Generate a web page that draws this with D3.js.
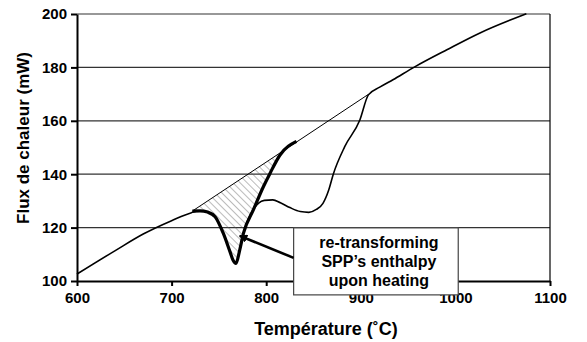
<!DOCTYPE html>
<html lang="fr">
<head>
<meta charset="utf-8">
<title>Flux de chaleur</title>
<script src="https://cdn.jsdelivr.net/npm/d3@7"></script>
<style>
body { margin: 0; background: #fff; }
text { font-family: "Liberation Sans", Arial, sans-serif; font-weight: bold; fill: #000; }
.grid line { stroke: #333; stroke-width: 1.2px; }
.axis path, .axis line { stroke: #000; stroke-width: 2px; fill: none; }
.axis text { font-size: 15px; }
</style>
</head>
<body>
<script>
// DSC heating curve (thin line)
var dscT = [600, 640, 670, 700, 721, 730, 740, 746, 754.6, 761.7, 765, 768, 772, 776, 786, 792, 798, 807, 815, 825, 836, 845, 853, 860, 866, 871, 883, 899, 908, 920, 934, 957, 991, 1026, 1075];
var dscQ = [102.6, 111.3, 117.6, 122.6, 125.6, 126.3, 125.6, 124.1, 117.9, 111, 107.8, 106.6, 111.6, 117.9, 126.6, 129.2, 130.2, 130.4, 129.3, 127.5, 126, 125.7, 126.8, 129.1, 134, 140.1, 150.3, 160.3, 169.7, 172.6, 175.4, 180.2, 186.6, 192.9, 200.1];

// highlighted (thick) part of the peak
var peakT = [722, 730, 738, 746, 754.6, 761.7, 765, 768, 772, 776, 786.4, 797, 804, 814.6, 832];
var peakQ = [126.2, 126.3, 125.8, 124.1, 117.9, 111, 107.8, 106.6, 111.6, 117.9, 126.6, 135.3, 140.3, 147.2, 152.3];

// tangent baseline
var baseT = [722, 908];
var baseQ = [126.2, 169.9];

var xTicks = [600, 700, 800, 900, 1000, 1100];
var yTicks = [100, 120, 140, 160, 180, 200];

var noteLines = ["re-transforming", "SPP\u2019s enthalpy", "upon heating"];
var noteBox = { t0: 829, t1: 1003, q0: 94.8, q1: 119.9 };
var noteTip = [772, 116.9];

var w = 587, h = 342;
var x = d3.scaleLinear().domain([600, 1100]).range([77, 550]);
var y = d3.scaleLinear().domain([100, 200]).range([281, 14]);

var svg = d3.select("body").append("svg").attr("width", w).attr("height", h);

var defs = svg.append("defs");
defs.append("pattern")
  .attr("id", "hatch")
  .attr("patternUnits", "userSpaceOnUse")
  .attr("width", 5).attr("height", 5)
  .attr("patternTransform", "rotate(-45)")
  .append("line")
  .attr("x1", 0).attr("y1", 0).attr("x2", 0).attr("y2", 5)
  .attr("stroke", "#555").attr("stroke-width", 0.8);

defs.append("marker")
  .attr("id", "tip")
  .attr("viewBox", "0 0 10 10")
  .attr("refX", 9).attr("refY", 5)
  .attr("markerWidth", 3.2).attr("markerHeight", 3.2)
  .attr("orient", "auto")
  .append("path")
  .attr("d", "M0,0L10,5L0,10Z")
  .attr("fill", "#000");

// grid
svg.append("g").attr("class", "grid")
  .selectAll("line")
  .data(yTicks.slice(1))
  .enter().append("line")
  .attr("x1", x(600)).attr("x2", x(1100))
  .attr("y1", function(d) { return y(d); })
  .attr("y2", function(d) { return y(d); });

// right frame
svg.append("line")
  .attr("x1", x(1100)).attr("x2", x(1100))
  .attr("y1", y(100)).attr("y2", y(200))
  .attr("stroke", "#000").attr("stroke-width", 1.2);

// hatched area between baseline and peak
var hatchPts = peakT.map(function(t, i) { return [t, peakQ[i]]; });
var slope = (baseQ[1] - baseQ[0]) / (baseT[1] - baseT[0]);
hatchPts.push([peakT[peakT.length - 1], baseQ[0] + slope * (peakT[peakT.length - 1] - baseT[0])]);
hatchPts.push([baseT[0], baseQ[0]]);

svg.append("path")
  .datum(hatchPts)
  .attr("d", d3.line().x(function(d) { return x(d[0]); }).y(function(d) { return y(d[1]); }).curve(d3.curveLinearClosed))
  .attr("fill", "url(#hatch)");

var line = d3.line()
  .x(function(d) { return x(d[0]); })
  .y(function(d) { return y(d[1]); });

svg.append("path")
  .datum(baseT.map(function(t, i) { return [t, baseQ[i]]; }))
  .attr("d", line)
  .attr("fill", "none").attr("stroke", "#000").attr("stroke-width", 1);

svg.append("path")
  .datum(dscT.map(function(t, i) { return [t, dscQ[i]]; }))
  .attr("d", line.curve(d3.curveMonotoneX))
  .attr("fill", "none").attr("stroke", "#000").attr("stroke-width", 1.6);

svg.append("path")
  .datum(peakT.map(function(t, i) { return [t, peakQ[i]]; }))
  .attr("d", line.curve(d3.curveMonotoneX))
  .attr("fill", "none").attr("stroke", "#000").attr("stroke-width", 3.2)
  .attr("stroke-linejoin", "round");

// axes
svg.append("g")
  .attr("class", "axis")
  .attr("transform", "translate(0," + y(100) + ")")
  .call(d3.axisBottom(x).tickValues(xTicks).tickFormat(d3.format("d")).tickSize(5).tickSizeOuter(0).tickPadding(6));

svg.append("g")
  .attr("class", "axis")
  .attr("transform", "translate(" + x(600) + ",0)")
  .call(d3.axisLeft(y).tickValues(yTicks).tickFormat(d3.format("d")).tickSize(6).tickSizeOuter(0).tickPadding(4));

svg.selectAll(".axis text").style("font-size", "15px");

// annotation box
var bx = x(noteBox.t0), by = y(noteBox.q1);
var bw = x(noteBox.t1) - bx, bh = y(noteBox.q0) - by;
svg.append("rect")
  .attr("x", bx).attr("y", by).attr("width", bw).attr("height", bh)
  .attr("fill", "#fff").attr("stroke", "#444").attr("stroke-width", 1.2);

svg.append("g").selectAll("text")
  .data(noteLines)
  .enter().append("text")
  .attr("x", bx + bw / 2 + 3)
  .attr("y", function(d, i) { return by + 20 + i * 19; })
  .attr("text-anchor", "middle")
  .style("font-size", "16px")
  .text(function(d) { return d; });

// pointer
svg.append("line")
  .attr("x1", bx).attr("y1", by + 30)
  .attr("x2", x(noteTip[0])).attr("y2", y(noteTip[1]))
  .attr("stroke", "#000").attr("stroke-width", 2.6)
  .attr("marker-end", "url(#tip)");

// axis titles
svg.append("text")
  .text("Température (\u02DAC)")
  .attr("x", 326).attr("y", 335)
  .attr("text-anchor", "middle")
  .style("font-size", "18px");

svg.append("text")
  .text("Flux de chaleur (mW)")
  .attr("transform", "translate(29,138) rotate(-90)")
  .attr("text-anchor", "middle")
  .style("font-size", "17px");
</script>
</body>
</html>
